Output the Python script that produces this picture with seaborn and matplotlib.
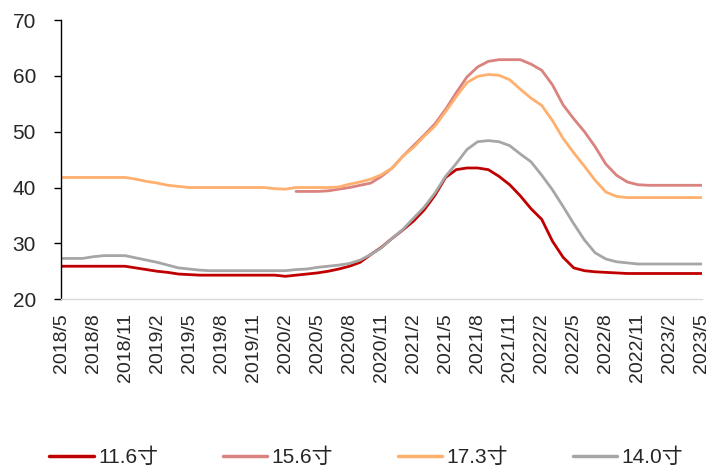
import matplotlib
matplotlib.use('Agg')
import matplotlib.pyplot as plt
import seaborn as sns
import numpy as np
import pandas as pd

# 月份：2018/5 至 2023/5
meses = pd.period_range('2018-05', '2023-05', freq='M')
rotulos = [f'{p.year}/{p.month}' for p in meses]

s116 = [25.9, 25.9, 25.9, 25.9, 25.9, 25.9, 25.9, 25.6, 25.3, 25.0,
        24.8, 24.5, 24.4, 24.3, 24.3, 24.3, 24.3, 24.3, 24.3, 24.3,
        24.3, 24.1, 24.3, 24.5, 24.7, 25.0, 25.4, 25.9, 26.6, 28.0,
        29.3, 30.9, 32.4, 34.0, 36.0, 38.6, 41.8, 43.2, 43.5, 43.5,
        43.2, 42.0, 40.5, 38.5, 36.2, 34.3, 30.4, 27.5, 25.6, 25.1,
        24.9, 24.8, 24.7, 24.6, 24.6, 24.6, 24.6, 24.6, 24.6, 24.6,
        24.6]
s156 = [np.nan] * 22 + [
        39.3, 39.3, 39.3, 39.4, 39.7, 40.0, 40.4, 40.8,
        42.0, 43.5, 45.6, 47.5, 49.4, 51.4, 54.0, 57.0, 59.8, 61.6,
        62.6, 62.9, 62.9, 62.9, 62.1, 61.0, 58.4, 54.8, 52.3, 50.0,
        47.3, 44.2, 42.2, 41.0, 40.5, 40.4, 40.4, 40.4, 40.4, 40.4,
        40.4]
s173 = [41.8, 41.8, 41.8, 41.8, 41.8, 41.8, 41.8, 41.5, 41.1, 40.8,
        40.4, 40.2, 40.0, 40.0, 40.0, 40.0, 40.0, 40.0, 40.0, 40.0,
        39.8, 39.7, 40.0, 40.0, 40.0, 40.0, 40.1, 40.6, 41.0, 41.5,
        42.3, 43.5, 45.6, 47.2, 49.2, 51.0, 53.6, 56.3, 58.8, 59.9,
        60.25, 60.1, 59.3, 57.6, 56.0, 54.7, 52.0, 48.8, 46.2, 43.8,
        41.3, 39.2, 38.4, 38.2, 38.2, 38.2, 38.2, 38.2, 38.2, 38.2,
        38.2]
s140 = [27.3, 27.3, 27.3, 27.6, 27.8, 27.8, 27.8, 27.4, 27.0, 26.6,
        26.1, 25.6, 25.4, 25.2, 25.1, 25.1, 25.1, 25.1, 25.1, 25.1,
        25.1, 25.1, 25.3, 25.4, 25.7, 25.9, 26.1, 26.4, 27.0, 28.0,
        29.2, 30.9, 32.5, 34.5, 36.5, 39.0, 42.0, 44.3, 46.8, 48.2,
        48.4, 48.2, 47.5, 46.0, 44.6, 42.2, 39.6, 36.6, 33.5, 30.6,
        28.3, 27.2, 26.7, 26.5, 26.3, 26.3, 26.3, 26.3, 26.3, 26.3,
        26.3]

series = {'11.6寸': s116, '15.6寸': s156, '17.3寸': s173, '14.0寸': s140}
cores = ['#C00000', '#D9827F', '#FFAF6E', '#A6A6A6']

df = pd.DataFrame(series)
df['mes'] = np.arange(len(meses))
df = df.melt(id_vars='mes', var_name='尺寸', value_name='价格').dropna()

sns.set_style('white')
plt.rcParams['font.family'] = ['Liberation Sans', 'Noto Sans CJK SC']

fig = plt.figure(figsize=(7.11, 4.66), dpi=100)
ax = fig.add_axes([0.0858, 0.358, 0.9015, 0.599])

sns.lineplot(data=df, x='mes', y='价格', hue='尺寸', palette=cores,
             linewidth=2.0, ax=ax, legend=False)

ax.set_xlim(0, len(meses) - 1)
ax.set_ylim(20, 70)
ax.set_yticks(range(20, 71, 10))
ax.set_xticks(range(0, len(meses), 3))
ax.set_xticklabels(rotulos[::3], rotation=90, fontsize=14)
ax.tick_params(axis='y', labelsize=15, length=5, width=1, direction='out',
               pad=13, left=True, color='black')
ax.tick_params(axis='x', length=0, pad=10)
ax.set_xlabel('')
ax.set_ylabel('')

for lado in ['top', 'right']:
    ax.spines[lado].set_visible(False)
ax.spines['left'].set_color('black')
ax.spines['left'].set_linewidth(1)
ax.spines['bottom'].set_color('#D9D9D9')
ax.spines['bottom'].set_linewidth(1)

handles = [plt.Line2D([], [], color=c, linewidth=2.5) for c in cores]
fig.legend(handles, list(series.keys()), loc='center',
           bbox_to_anchor=(0.515, 0.018), ncol=4, frameon=False,
           fontsize=15, handlelength=2.15, handletextpad=0.2,
           columnspacing=3.1, borderaxespad=0, borderpad=0)

fig.savefig('out.png', dpi=100)
